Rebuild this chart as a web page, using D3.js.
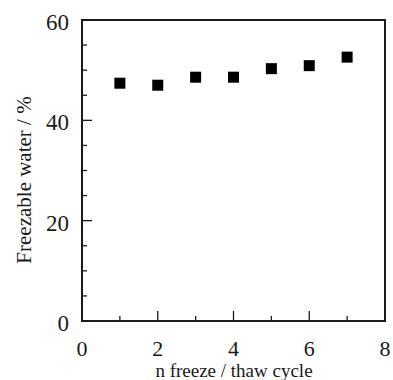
<!DOCTYPE html>
<html><head><meta charset="utf-8">
<script src="https://cdn.jsdelivr.net/npm/d3@7"></script>
</head><body style="margin:0">
<script>
const cycles = [1, 2, 3, 4, 5, 6, 7];
const freezable = [47.4, 47.0, 48.6, 48.6, 50.3, 50.9, 52.6];
const xTicks = [0, 2, 4, 6, 8];
const xMinor = [1, 3, 5, 7];
const yTicks = [0, 20, 40, 60];
const yMinor = [5, 10, 15, 25, 30, 35, 45, 50, 55];
const xLabel = "n freeze / thaw cycle";
const yLabel = "Freezable water / %";

const W = 393, H = 380;
const L = 82, R = 385, T = 20, B = 321;
const FONT = "Liberation Serif";
const svg = d3.select("body").append("svg").attr("width", W).attr("height", H);
const x = d3.scaleLinear().domain([0, 8]).range([L, R]);
const y = d3.scaleLinear().domain([0, 60]).range([B, T]);
const col = "#1a1a1a";

svg.append("rect").attr("x", L).attr("y", T).attr("width", R - L).attr("height", B - T)
  .attr("fill", "none").attr("stroke", col).attr("stroke-width", 2);

const g = svg.append("g").attr("stroke", col).attr("stroke-width", 1.3);
g.selectAll(".xM").data(xTicks.filter(d => d > 0 && d < 8)).enter().append("line")
  .attr("x1", d => x(d)).attr("x2", d => x(d)).attr("y1", B).attr("y2", B - 10);
g.selectAll(".xm").data(xMinor).enter().append("line")
  .attr("x1", d => x(d)).attr("x2", d => x(d)).attr("y1", B).attr("y2", B - 5);
g.selectAll(".yM").data(yTicks.filter(d => d > 0 && d < 60)).enter().append("line")
  .attr("y1", d => y(d)).attr("y2", d => y(d)).attr("x1", L).attr("x2", L + 10);
g.selectAll(".ym").data(yMinor).enter().append("line")
  .attr("y1", d => y(d)).attr("y2", d => y(d)).attr("x1", L).attr("x2", L + 5);

svg.selectAll(".xl").data(xTicks).enter().append("text")
  .attr("x", d => x(d)).attr("y", 356).attr("text-anchor", "middle")
  .attr("font-family", FONT).attr("font-size", 22).attr("fill", col).text(d => d);
svg.selectAll(".yl").data(yTicks).enter().append("text")
  .attr("x", 69).attr("y", d => y(d) + 10).attr("text-anchor", "end")
  .attr("font-family", FONT).attr("font-size", 23).attr("fill", col).text(d => d);

svg.append("text").attr("x", 234).attr("y", 377).attr("text-anchor", "middle")
  .attr("font-family", FONT).attr("font-size", 19).attr("fill", col).text(xLabel);
svg.append("text").attr("transform", "translate(31,180) rotate(-90)").attr("text-anchor", "middle")
  .attr("font-family", FONT).attr("font-size", 21).attr("fill", col).text(yLabel);

const s = 11;
svg.selectAll(".pt").data(cycles).enter().append("rect")
  .attr("x", d => x(d) - s / 2).attr("y", (d, i) => y(freezable[i]) - s / 2)
  .attr("width", s).attr("height", s).attr("fill", "#000");
</script>
</body></html>
